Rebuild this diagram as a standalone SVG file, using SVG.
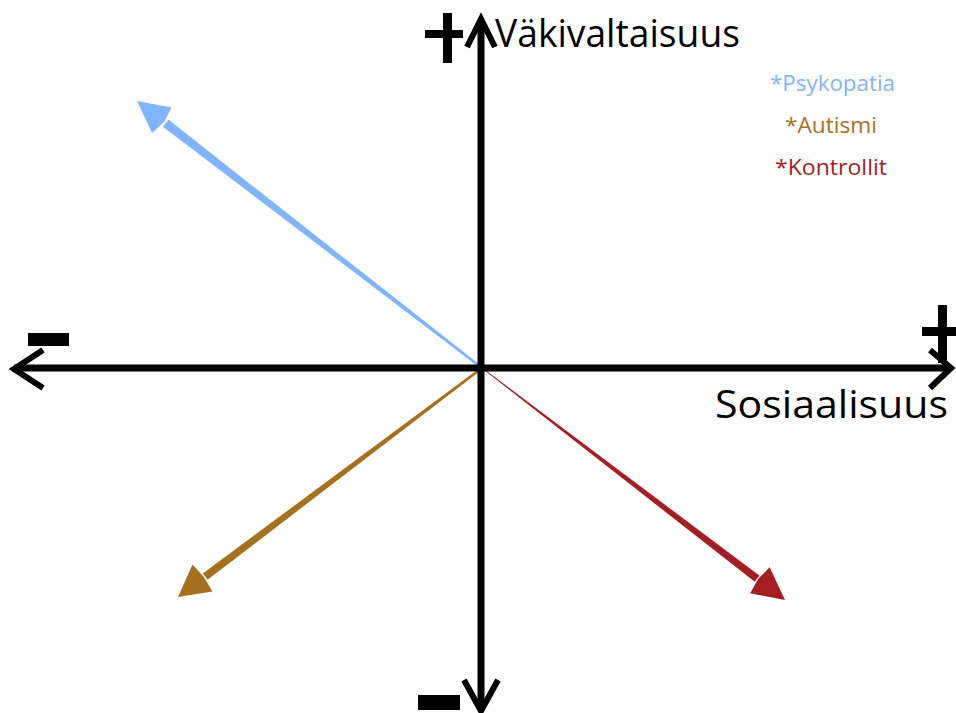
<svg xmlns="http://www.w3.org/2000/svg" width="956" height="713" viewBox="0 0 956 713">
<style>
.axis{stroke:#000;stroke-width:7;fill:none;stroke-linecap:butt}
.chev{stroke:#000;stroke-width:6;fill:none;stroke-linejoin:miter;stroke-miterlimit:10}
.lbl{font-family:"Open Sans","Noto Sans","Liberation Sans",sans-serif;fill:#000;font-size:39px}
.leg{font-family:"Open Sans","Noto Sans","Liberation Sans",sans-serif;font-size:21px}
.blue{fill:#80b4fb}
.brown{fill:#a5711f}
.red{fill:#a51e22}
</style>
<rect width="956" height="713" fill="#fff"/>
<g id="connectors">
  <g id="arrow-psykopatia" class="blue">
    <polygon points="482.7,367.1 481.3,368.9 162.9,126.8 168.3,119.6"/>
    <polygon points="137,101 171.5,107.5 164.5,121.5 152.0,133.0"/>
  </g>
  <g id="arrow-autismi" class="brown">
    <polygon points="482.7,368.9 481.3,367.1 202.8,573.4 207.6,579.8"/>
    <polygon points="178,597 192.5,564.6 203.5,576.5 212.5,591.6"/>
  </g>
  <g id="arrow-kontrollit" class="red">
    <polygon points="481.3,367.1 482.7,368.9 754.7,581.8 759.3,575.4"/>
    <polygon points="785,600 769.7,567.3 758.5,578.5 750.1,593.3"/>
  </g>
</g>
<g id="axis-y">
  <line class="axis" x1="481" y1="22" x2="481" y2="710"/>
  <polyline class="chev" points="467,47 481,19 495,47"/>
  <polyline class="chev" points="464,680 481,711 498,680"/>
</g>
<g id="axis-x">
  <line class="axis" x1="14" y1="368" x2="950" y2="368"/>
  <polyline class="chev" points="43,350 14,369 43,388"/>
  <polyline class="chev" points="930,350 951,368 930,388"/>
</g>
<g id="signs">
  <rect x="425" y="30" width="38" height="8"/>
  <rect x="443" y="13" width="9" height="50"/>
  <rect x="922" y="327" width="34" height="9"/>
  <rect x="938" y="305" width="9" height="58"/>
  <rect x="28" y="333" width="41" height="13"/>
  <rect x="418" y="695" width="42" height="15"/>
</g>
<g id="label-y">
  <text class="lbl" x="495" y="47" textLength="245" lengthAdjust="spacingAndGlyphs">Väkivaltaisuus</text>
</g>
<g id="label-x">
  <text class="lbl" x="715" y="418" textLength="233" lengthAdjust="spacingAndGlyphs">Sosiaalisuus</text>
</g>
<g id="legend">
  <text class="leg blue" x="770" y="91" textLength="125" lengthAdjust="spacingAndGlyphs">*Psykopatia</text>
  <text class="leg brown" x="785" y="133" textLength="92" lengthAdjust="spacingAndGlyphs">*Autismi</text>
  <text class="leg red" x="775" y="175" textLength="112" lengthAdjust="spacingAndGlyphs">*Kontrollit</text>
</g>
</svg>
